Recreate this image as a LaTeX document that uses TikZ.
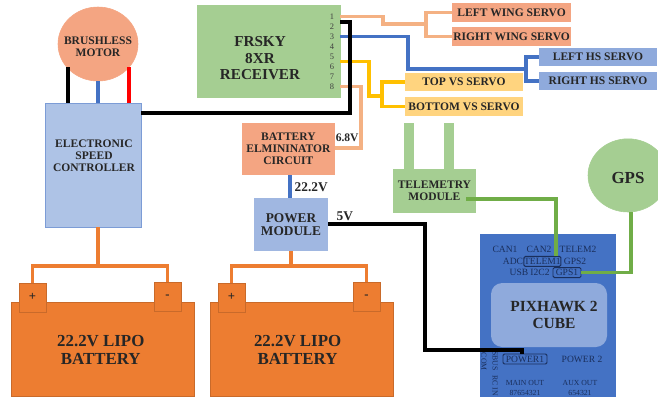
\documentclass[tikz,border=0pt]{standalone}
\usepackage{fontspec}
\setmainfont{Liberation Serif}
\usetikzlibrary{shapes.geometric}
\definecolor{peach}{HTML}{F4B183}
\definecolor{salmon}{HTML}{F4A582}
\definecolor{liteblue}{HTML}{AEC3E6}
\definecolor{wireblue}{HTML}{4472C4}
\definecolor{hsblue}{HTML}{8FAADC}
\definecolor{vsyellow}{HTML}{FFD47F}
\definecolor{wireyellow}{HTML}{FFC000}
\definecolor{rxgreen}{HTML}{A5CE92}
\definecolor{wiregreen}{HTML}{70AD47}
\definecolor{battorange}{HTML}{ED7D31}
\definecolor{cubeblue}{HTML}{8FAADC}
\definecolor{inkblue}{HTML}{1A2F5C}
\tikzset{
	lbl/.style={font=\bfseries\fontsize{8.2pt}{8.6pt}\selectfont, align=center, text=black!85},
	bigbox/.style={rectangle, lbl, inner sep=0pt},
	servobox/.style={bigbox, minimum width=2.95cm, minimum height=0.47cm},
	battbox/.style={bigbox, fill=battorange, draw=battorange!85!black, minimum width=4.575cm, minimum height=2.35cm},
	batttxt/.style={lbl, inner sep=0pt, font=\bfseries\fontsize{12pt}{12.8pt}\selectfont},
	termbox/.style={bigbox, fill=battorange, draw=battorange!85!black, minimum width=0.675cm, minimum height=0.725cm, font=\bfseries\fontsize{9pt}{9pt}\selectfont},
	wire/.style={line width=2.2pt},
	pinlbl/.style={font=\fontsize{6pt}{6pt}\selectfont, text=black!75, inner sep=0pt},
	fclbl/.style={font=\fontsize{6.8pt}{7pt}\selectfont, text=inkblue, inner sep=0pt},
	tinylbl/.style={font=\fontsize{5.5pt}{6pt}\selectfont, text=inkblue, inner sep=0pt},
	portbox/.style={fclbl, draw=inkblue, rounded corners=1pt, line width=0.7pt, minimum height=0.25cm}
}
\begin{document}
\begin{tikzpicture}
	\useasboundingbox (0,0) rectangle (16.45,9.975);

	% motor and speed controller
	\node[ellipse, fill=salmon, draw=salmon, minimum width=2cm, minimum height=1.85cm, inner sep=0pt] (motor) at (2.45,8.875) {};
	\node[lbl, inner sep=0pt] (motortxt) at (2.45,8.8) {BRUSHLESS\\MOTOR};
	\node[bigbox, fill=liteblue, draw=wireblue!70, minimum width=2.39cm, minimum height=3.1cm] (esc) at (2.33,5.85) {};
	\node[lbl, inner sep=0pt] (esctxt) at (2.35,6.08) {ELECTRONIC\\SPEED\\CONTROLLER};
	\coordinate (mblack) at (1.7,8.3);
	\coordinate (mred) at (3.225,8.3);

	% receiver
	\node[bigbox, fill=rxgreen, draw=rxgreen, minimum width=3.575cm, minimum height=2.3cm] (rx) at (6.71,8.7) {};
	\node[lbl, inner sep=0pt, font=\bfseries\fontsize{10.8pt}{11.5pt}\selectfont] (rxtxt) at (6.5,8.52) {FRSKY\\8XR\\RECEIVER};
	\foreach \n/\yy in {1/9.56, 2/9.31, 3/9.06, 4/8.81, 5/8.56, 6/8.31, 7/8.06, 8/7.81}
		\node[pinlbl] (pin\n) at (8.3,\yy) {\n};

	% servos
	\node[servobox, fill=salmon, minimum width=2.975cm] (lwing) at (12.79,9.66) {LEFT WING SERVO};
	\node[servobox, fill=salmon, minimum width=2.975cm] (rwing) at (12.79,9.06) {RIGHT WING SERVO};
	\node[servobox, fill=hsblue] (lhs) at (14.95,8.55) {LEFT HS SERVO};
	\node[servobox, fill=hsblue] (rhs) at (14.95,7.95) {RIGHT HS SERVO};
	\node[servobox, fill=vsyellow] (topvs) at (11.6,7.925) {TOP VS SERVO};
	\node[servobox, fill=vsyellow] (botvs) at (11.6,7.31) {BOTTOM VS SERVO};

	% power
	\node[bigbox, fill=salmon, minimum width=2.325cm, minimum height=1.3cm] (bec) at (7.21,6.25) {BATTERY\\ELMININATOR\\CIRCUIT};
	\node[bigbox, fill=hsblue!85!white, minimum width=1.85cm, minimum height=1.325cm, font=\bfseries\fontsize{9.5pt}{9.8pt}\selectfont] (pm) at (7.275,4.36) {POWER\\MODULE};

	\node[battbox] (batta) at (2.56,1.25) {};
	\node[batttxt] (battatxt) at (2.52,1.22) {22.2V LIPO\\BATTERY};
	\node[termbox] (apos) at (0.81,2.54) {+};
	\node[termbox] (aneg) at (4.19,2.56) {-};
	\node[battbox] (battb) at (7.54,1.25) {};
	\node[batttxt] (battbtxt) at (7.44,1.22) {22.2V LIPO\\BATTERY};
	\node[termbox] (bpos) at (5.79,2.54) {+};
	\node[termbox] (bneg) at (9.16,2.56) {-};

	% telemetry and gps
	\node[bigbox, fill=rxgreen, minimum width=0.24cm, minimum height=1.15cm] (anta) at (10.22,6.325) {};
	\node[bigbox, fill=rxgreen, minimum width=0.24cm, minimum height=1.15cm] (antb) at (11.225,6.325) {};
	\node[bigbox, fill=rxgreen, minimum width=2.075cm, minimum height=1.1cm] (telem) at (10.86,5.2) {TELEMETRY\\MODULE};
	\node[ellipse, fill=rxgreen, draw=rxgreen, minimum width=2cm, minimum height=1.83cm, inner sep=0pt] (gps) at (15.7,5.59) {};
	\node[lbl, inner sep=0pt, font=\bfseries\fontsize{12pt}{13pt}\selectfont] (gpstxt) at (15.7,5.52) {GPS};
	\coordinate (telemout) at (11.65,5);

	% pixhawk
	\node[bigbox, fill=wireblue, draw=wireblue, minimum width=3.375cm, minimum height=4.05cm] (hawk) at (13.69,2.1) {};
	\node[bigbox, rounded corners=8pt, fill=cubeblue, minimum width=2.9cm, minimum height=1.6cm] (cube) at (13.725,2.1) {};
	\node[lbl, inner sep=0pt, font=\bfseries\fontsize{11pt}{12.6pt}\selectfont] (cubetxt) at (13.85,2.1) {PIXHAWK 2\\CUBE};

	\node[fclbl] (can1) at (12.625,3.75) {CAN1};
	\node[fclbl] (can2) at (13.475,3.75) {CAN2};
	\node[fclbl] (telem2) at (14.45,3.75) {TELEM2};
	\node[fclbl] (adc) at (12.825,3.45) {ADC};
	\node[portbox, minimum width=0.925cm] (telem1) at (13.56,3.44) {TELEM1};
	\node[fclbl] (gps2) at (14.375,3.45) {GPS2};
	\node[fclbl] (usb) at (12.975,3.175) {USB};
	\node[fclbl] (i2c) at (13.5,3.175) {I2C2};
	\node[portbox, minimum width=0.7cm] (gps1) at (14.175,3.16) {GPS1};
	\node[portbox, minimum width=1.1cm] (power1) at (13.125,1.0) {POWER1};
	\node[fclbl] (power2) at (14.55,1.0) {POWER 2};
	\node[tinylbl, rotate=-90] (com) at (12.1,0.93) {COM};
	\node[tinylbl, rotate=-90] (sbus) at (12.38,0.95) {SBUS};
	\node[tinylbl, rotate=-90] (rcin) at (12.38,0.33) {RC IN};
	\node[tinylbl] (mainout) at (13.125,0.4) {MAIN OUT};
	\node[tinylbl] (mainnum) at (13.125,0.15) {87654321};
	\node[tinylbl] (auxout) at (14.5,0.4) {AUX OUT};
	\node[tinylbl] (auxnum) at (14.5,0.15) {654321};

	% wires
	\draw[wire, black] (mblack) -- (esc.north -| mblack);
	\draw[wire, wireblue] (motor.south) -- (esc.north -| motor.south);
	\draw[wire, red] (mred) -- (esc.north -| mred);

	\draw[wire, peach] (pin1 -| rx.east) -| (9.575,9.375) -- (10.65,9.375);
	\draw[wire, peach] (lwing.west) -| (10.65,9.06) -- (rwing.west);
	\draw[wire, wireblue] (pin3 -| rx.east) -| (10.2,8.25) -- (13.15,8.25);
	\draw[wire, wireblue] (lhs.west) -| (13.15,7.95) -- (rhs.west);
	\draw[wire, wireyellow] (rx.east |- 0,8.44) -| (9.225,7.575) -- (9.55,7.575);
	\draw[wire, wireyellow] (topvs.west) -| (9.55,7.31) -- (botvs.west);
	\draw[wire, peach] (pin8 -| rx.east) -| (9.025,6.275) -- (bec.east |- 0,6.275);
	\draw[wire, black] (esc.east |- 0,7.15) -- (8.75,7.15) -- (8.75,9.425) -- (rx.east |- 0,9.425);

	\draw[wire, wireblue] (bec.south -| 7.25,0) -- (pm.north -| 7.25,0);
	\draw[wire, black] (pm.east |- 0,4.375) -- (10.625,4.375) -- (10.625,1.225) -- (13.05,1.225) -- (power1.north -| 13.05,0);

	\draw[wire, battorange] (esc.south -| 2.45,0) -- (2.45,3.325);
	\draw[wire, battorange] (apos.north) |- (aneg.north |- 2.45,3.325) -- (aneg.north);
	\draw[wire, battorange] (pm.south) -- (7.275,3.325);
	\draw[wire, battorange] (bpos.north) |- (bneg.north |- 7.275,3.325) -- (bneg.north);

	\draw[wire, wiregreen] (telemout) -| (telem1.north -| 13.9,0);
	\draw[wire, wiregreen] (gps1.east) -| (gps.south -| 15.775,0);

	% voltages
	\node[lbl, inner sep=0pt] (v68) at (8.68,6.52) {6.8V};
	\node[lbl, inner sep=0pt, font=\bfseries\fontsize{9.5pt}{10pt}\selectfont] (v222) at (7.78,5.3) {22.2V};
	\node[lbl, inner sep=0pt, font=\bfseries\fontsize{9.5pt}{10pt}\selectfont] (v5) at (8.62,4.58) {5V};
\end{tikzpicture}
\end{document}
